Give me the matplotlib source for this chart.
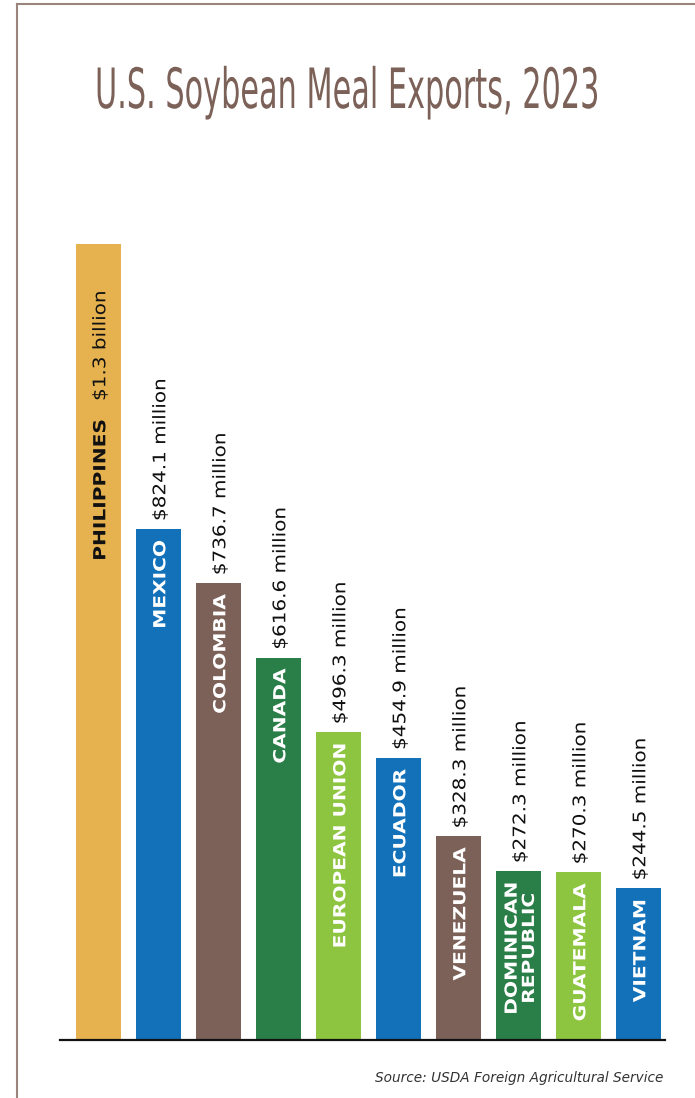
import matplotlib
matplotlib.use("Agg")
import matplotlib.pyplot as plt
from matplotlib import patheffects
from matplotlib.transforms import Affine2D
from matplotlib.lines import Line2D

# ---- data ----
countries = ["PHILIPPINES", "MEXICO", "COLOMBIA", "CANADA", "EUROPEAN UNION",
             "ECUADOR", "VENEZUELA", "DOMINICAN\nREPUBLIC", "GUATEMALA", "VIETNAM"]
values_musd = [1284, 824.1, 736.7, 616.6, 496.3, 454.9, 328.3, 272.3, 270.3, 244.5]
value_labels = ["$1.3 billion", "$824.1 million", "$736.7 million", "$616.6 million",
                "$496.3 million", "$454.9 million", "$328.3 million", "$272.3 million",
                "$270.3 million", "$244.5 million"]
colors = ["#E6B24F", "#1371BA", "#7B6158", "#2A7E47", "#8DC540",
          "#1371BA", "#7B6158", "#2A7E47", "#8DC540", "#1371BA"]
title = "U.S. Soybean Meal Exports, 2023"
source = "Source: USDA Foreign Agricultural Service"

W, H, DPI = 695, 1098, 100
fig = plt.figure(figsize=(W / DPI, H / DPI), dpi=DPI)
fig.patch.set_facecolor("white")


class Stretch(patheffects.AbstractPathEffect):
    """Scale the drawn glyph paths about a display point (cx, cy)."""

    def __init__(self, sx, sy, cx, cy):
        super().__init__()
        self.sx, self.sy, self.cx, self.cy = sx, sy, cx, cy

    def draw_path(self, renderer, gc, tpath, affine, rgbFace=None):
        t = affine + (Affine2D().translate(-self.cx, -self.cy)
                      .scale(self.sx, self.sy).translate(self.cx, self.cy))
        renderer.draw_path(gc, tpath, t, rgbFace)


# frame lines (top and left)
fx = 16.5
fig.add_artist(Line2D([fx / W, fx / W], [0, 1 - 3.5 / H], transform=fig.transFigure,
                      color="#9A857C", lw=1.5))
fig.add_artist(Line2D([fx / W, 1], [1 - 3.5 / H, 1 - 3.5 / H], transform=fig.transFigure,
                      color="#9A857C", lw=1.5))

# axes: x from 60 to 665 px, baseline at y=1040 px, top at y=200 px
ax_l, ax_r, ax_b, ax_t = 60, 665, 1040, 200
ax = fig.add_axes([ax_l / W, (H - ax_b) / H, (ax_r - ax_l) / W, (ax_b - ax_t) / H])
px_per_unit = 511 / 824.1
ax.set_ylim(0, (ax_b - ax_t) / px_per_unit)
ax.set_xlim(-38.5 / 60, (ax_r - 98.5) / 60)

x = list(range(len(countries)))
ax.bar(x, values_musd, width=0.75, color=colors, zorder=2)

for s in ["top", "left", "right"]:
    ax.spines[s].set_visible(False)
ax.spines["bottom"].set_linewidth(1.6)
ax.spines["bottom"].set_color("#111111")
ax.set_xticks([])
ax.set_yticks([])

pt = 0.72  # points per pixel at 100 dpi
val_texts, cty_texts = [], []
for i, (c, v, vl) in enumerate(zip(countries, values_musd, value_labels)):
    if i == 0:
        t1 = ax.annotate(vl, (i + 0.03, v), xytext=(0, -46 * pt), textcoords="offset points",
                         rotation=90, rotation_mode="anchor", ha="right", va="center",
                         fontsize=12.5, color="#111111", family="DejaVu Sans")
        t2 = ax.annotate(c, (i + 0.03, v), xytext=(0, -176 * pt), textcoords="offset points",
                         rotation=90, rotation_mode="anchor", ha="right", va="center",
                         fontsize=12, fontweight="bold", color="#111111", family="DejaVu Sans")
        val_texts.append((t1, "top"))
        cty_texts.append((t2, "top"))
    else:
        t1 = ax.annotate(vl, (i + 0.03, v), xytext=(0, 8 * pt), textcoords="offset points",
                         rotation=90, rotation_mode="anchor", ha="left", va="center",
                         fontsize=12.5, color="#111111", family="DejaVu Sans")
        t2 = ax.annotate(c, (i + 0.03, v), xytext=(0, -11 * pt), textcoords="offset points",
                         rotation=90, rotation_mode="anchor", ha="right", va="center",
                         multialignment="center", linespacing=0.95,
                         fontsize=12, fontweight="bold", color="white", family="DejaVu Sans")
        val_texts.append((t1, "bottom"))
        cty_texts.append((t2, "top"))

title_fs = 40
ttl = fig.text(347.5 / W, 1 - 108 / H, title, ha="center", va="baseline",
               fontsize=title_fs, color="#7B6158",
               family=["Liberation Sans Narrow", "DejaVu Sans"])
fig.text(663 / W, 1 - 1082 / H, source, ha="right", va="baseline", fontsize=9.8,
         style="italic", color="#333333", family="DejaVu Sans")

# fit title: shrink font so its width is 504 px, then stretch it vertically
fig.canvas.draw()
bb = ttl.get_window_extent()
new_fs = title_fs * 504 / bb.width
ttl.set_fontsize(new_fs)
ttl.set_path_effects([Stretch(1.0, title_fs / new_fs, 347.5, 108 and (H - 108))])

fig.canvas.draw()
for group, s in ((val_texts, 1.15), (cty_texts, 1.21)):
    for t, anchor in group:
        e = t.get_window_extent()
        cy = e.y1 if anchor == "top" else e.y0
        t.set_path_effects([Stretch(1.0, s, (e.x0 + e.x1) / 2, cy)])

fig.savefig("out.png", dpi=DPI, facecolor="white")
